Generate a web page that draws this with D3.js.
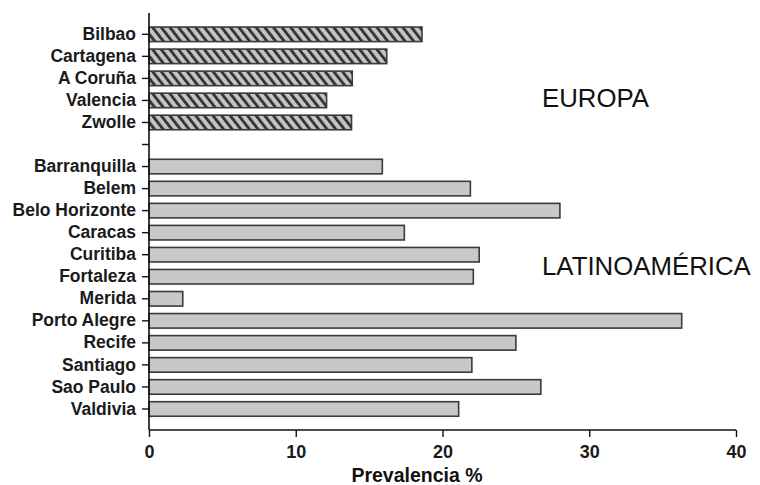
<!DOCTYPE html>
<html>
<head>
<meta charset="utf-8">
<script src="https://cdn.jsdelivr.net/npm/d3@7"></script>
<style>
  html, body { margin: 0; padding: 0; background: #fff; }
  svg { display: block; font-family: "Liberation Sans", Arial, sans-serif; }
</style>
</head>
<body>
<svg id="chart" width="760" height="485"></svg>
<script>
// ---- data ----
const europeCities = ["Bilbao", "Cartagena", "A Coruña", "Valencia", "Zwolle"];
const europeValues = [18.6, 16.2, 13.85, 12.1, 13.8];
const latamCities = ["Barranquilla", "Belem", "Belo Horizonte", "Caracas", "Curitiba", "Fortaleza",
  "Merida", "Porto Alegre", "Recife", "Santiago", "Sao Paulo", "Valdivia"];
const latamValues = [15.9, 21.9, 28.0, 17.4, 22.5, 22.1, 2.3, 36.3, 25.0, 22.0, 26.7, 21.1];
const gapCategory = "";
const xTicks = [0, 10, 20, 30, 40];
const xTitle = "Prevalencia %";
const groupLabels = ["EUROPA", "LATINOAMÉRICA"];

const categories = [...europeCities, gapCategory, ...latamCities];
const rows = [
  ...europeCities.map((c, i) => ({ city: c, value: europeValues[i], group: "eu" })),
  ...latamCities.map((c, i) => ({ city: c, value: latamValues[i], group: "la" }))
];

// ---- layout ----
const svg = d3.select("#chart");
const x0 = 149, x1 = 736, yTop = 13, yBottom = 430;

const x = d3.scaleLinear().domain([0, 40]).range([x0, x1]);
const y = d3.scaleBand().domain(categories).range([23.3, 420]).paddingInner(0.34).paddingOuter(0.17);

// hatch pattern for Europe
const defs = svg.append("defs");
const pat = defs.append("pattern")
  .attr("id", "hatch")
  .attr("patternUnits", "userSpaceOnUse")
  .attr("width", 6.8).attr("height", 6.8)
  .attr("patternTransform", "rotate(-38)");
pat.append("rect").attr("width", 6.8).attr("height", 6.8).attr("fill", "#c4c4c4");
pat.append("rect").attr("x", 0).attr("y", 0).attr("width", 2.8).attr("height", 6.8).attr("fill", "#333");

// bars
svg.append("g").selectAll("rect")
  .data(rows)
  .join("rect")
  .attr("x", x(0))
  .attr("y", d => y(d.city))
  .attr("width", d => x(d.value) - x(0))
  .attr("height", y.bandwidth())
  .attr("fill", d => d.group === "eu" ? "url(#hatch)" : "#c8c8c8")
  .attr("stroke", "#3a3a3a")
  .attr("stroke-width", 1.6);

// y axis
const yAxis = d3.axisLeft(y).tickSize(7).tickPadding(6);
const gy = svg.append("g").attr("transform", `translate(${x0},0)`).call(yAxis);
gy.select(".domain").remove();
gy.append("line").attr("x1", 0).attr("x2", 0).attr("y1", yTop).attr("y2", yBottom)
  .attr("stroke", "#111").attr("stroke-width", 1.6);
gy.selectAll(".tick line").attr("stroke", "#111").attr("stroke-width", 1.4);
gy.selectAll(".tick text")
  .attr("fill", "#1a1a1a")
  .style("font-size", "17.5px")
  .style("font-weight", "bold");

// x axis
const xAxis = d3.axisBottom(x).tickValues(xTicks).tickSize(7).tickPadding(8).tickFormat(d3.format("d"));
const gx = svg.append("g").attr("transform", `translate(0,${yBottom})`).call(xAxis);
gx.select(".domain").remove();
gx.append("line").attr("x1", x0).attr("x2", x1).attr("y1", 0).attr("y2", 0)
  .attr("stroke", "#111").attr("stroke-width", 1.6);
gx.selectAll(".tick line").attr("stroke", "#111").attr("stroke-width", 1.4);
gx.selectAll(".tick text")
  .attr("fill", "#1a1a1a")
  .style("font-size", "18px")
  .style("font-weight", "bold");

// x title
svg.append("text")
  .attr("x", 417).attr("y", 482)
  .attr("text-anchor", "middle")
  .attr("fill", "#111")
  .style("font-size", "19.5px")
  .style("font-weight", "bold")
  .text(xTitle);

// group labels
svg.append("text").attr("x", 542).attr("y", 106.5)
  .attr("fill", "#111").style("font-size", "25.8px").text(groupLabels[0]);
svg.append("text").attr("x", 542).attr("y", 274.5)
  .attr("fill", "#111").style("font-size", "25.8px").text(groupLabels[1]);
</script>
</body>
</html>
